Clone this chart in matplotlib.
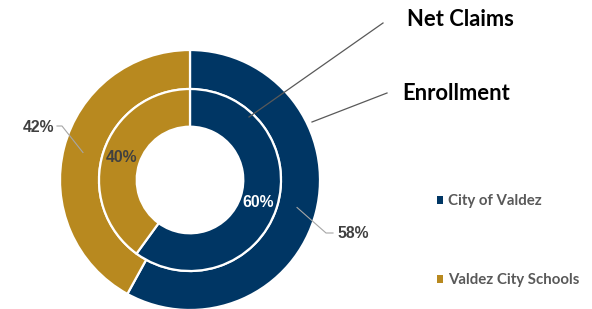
import matplotlib.pyplot as plt
import numpy as np
from matplotlib.patches import Patch

# data
entities = ['City of Valdez', 'Valdez City Schools']
enrollment = [58, 42]   # outer ring
net_claims = [60, 40]   # inner ring
colors = ['#003664', '#B8891F']

plt.rcParams['font.family'] = ['Liberation Sans', 'DejaVu Sans']

fig = plt.figure(figsize=(5.92, 3.09), dpi=100)
ax = fig.add_axes([0, 0, 1, 1])

cx, cy, R = 190, 129, 130
r_in = 0.70 * R

outer, _ = ax.pie(enrollment, colors=colors, startangle=90, counterclock=False,
                  radius=R, center=(cx, cy), frame=True,
                  wedgeprops=dict(width=0.30 * R, edgecolor='white', linewidth=1.6))
inner, _ = ax.pie(net_claims, colors=colors, startangle=90, counterclock=False,
                  radius=r_in, center=(cx, cy), frame=True,
                  wedgeprops=dict(width=0.29 * R, edgecolor='white', linewidth=1.6))
ax.set_xlim(0, 592)
ax.set_ylim(0, 309)
ax.set_aspect('equal')
ax.axis('off')


def mid(w):
    return np.deg2rad((w.theta1 + w.theta2) / 2)


# inner labels
for w, v, c in zip(inner, net_claims, ['white', '#404040']):
    a = mid(w)
    rr = 0.555 * R
    ax.text(cx + rr * np.cos(a), cy + rr * np.sin(a), f'{v}%', color=c,
            fontsize=11.3, fontweight='bold', ha='center', va='center')

# outer labels with leaders
lc = '#A6A6A6'
a = mid(outer[0])
px, py = cx + 0.85 * R * np.cos(a), cy + 0.85 * R * np.sin(a)
ax.plot([px, 326, 333], [py, 76, 76], color=lc, lw=0.8)
ax.text(337, 75, f'{enrollment[0]}%', color='#404040', fontsize=11.3,
        fontweight='bold', ha='left', va='center')
a = mid(outer[1])
px, py = cx + 0.85 * R * np.cos(a), cy + 0.85 * R * np.sin(a)
ax.plot([px, 62, 57], [py, 183, 183], color=lc, lw=0.8)
ax.text(54, 181.5, f'{enrollment[1]}%', color='#404040', fontsize=11.3,
        fontweight='bold', ha='right', va='center')

# ring callouts
ax.plot([383, 249], [286, 192], color='#595959', lw=0.9)
ax.plot([387, 312], [216, 187], color='#595959', lw=0.9)
ax.text(460, 289, 'Net Claims', fontsize=15.8, fontweight='bold',
        family=['Lato', 'DejaVu Sans'], ha='center', va='center')
ax.text(456, 216, 'Enrollment', fontsize=15.8, fontweight='bold',
        family=['Lato', 'DejaVu Sans'], ha='center', va='center')

handles = [Patch(facecolor=c, edgecolor='none') for c in colors]
ax.legend(handles, entities, loc='upper left', bbox_to_anchor=(423, 128),
          bbox_transform=ax.transData, frameon=False, handlelength=0.45,
          handleheight=0.45, handletextpad=0.35, labelspacing=4.3,
          labelcolor='#595959',
          prop=dict(family=['Lato', 'DejaVu Sans'], weight='bold', size=10.8))

fig.savefig('out.png', dpi=100)
